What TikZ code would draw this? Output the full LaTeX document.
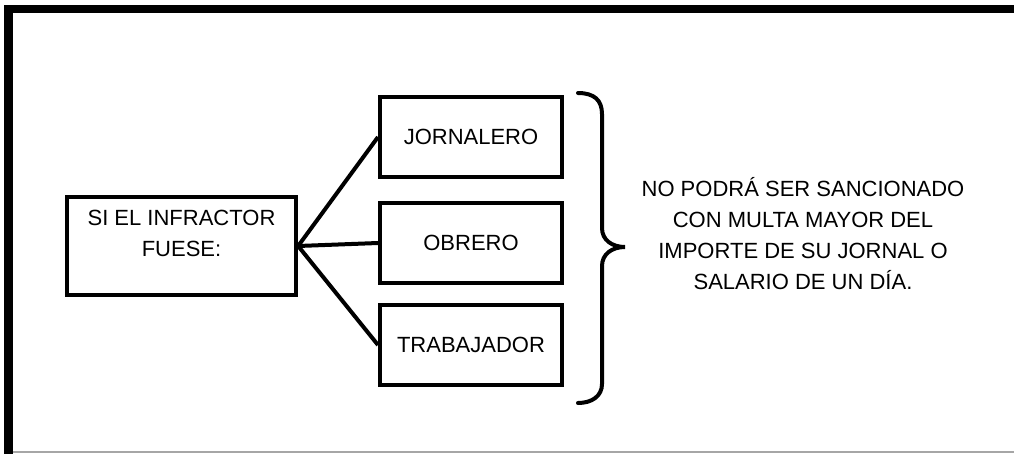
\documentclass[tikz,border=0pt]{standalone}
\usepackage{fontspec}
\setmainfont{Liberation Sans}
\usetikzlibrary{positioning}

\begin{document}
\begin{tikzpicture}[x=0.75pt,y=-0.75pt,font=\fontsize{16.5}{23.25}\selectfont]
\tikzstyle{b}=[draw,line width=3pt,minimum width=182*0.75pt,minimum height=80*0.75pt,inner sep=0pt]
\useasboundingbox (0,0) rectangle (1014,454);
% frame
\fill (4,5) rectangle (1014,13);
\fill (4,5) rectangle (13,454);
\draw[gray!70,line width=1.2pt] (13,452) -- (1014,452);
% left box
\node[draw,line width=3.2pt,minimum width=229*0.75pt,minimum height=98*0.75pt] (inf) at (181.5,246) {};
\node[align=center,anchor=north,inner sep=0pt] (inftxt) at (181.5,210) {SI EL INFRACTOR\\FUESE:};
\foreach \i/\t/\y in {jor/JORNALERO/137,obr/OBRERO/243,tra/TRABAJADOR/345} \node[b] (\i) at (471,\y) {\t};
\foreach \i in {jor,obr,tra} \draw[line width=3pt] (inf.east) -- (\i.west);
% brace
\draw[line width=3pt,line cap=round] (578,93) .. controls (594,93) and (602,100) .. (602,114) -- (602,228) .. controls (602,240) and (612,247) .. (625,247) .. controls (612,247) and (602,254) .. (602,266) -- (602,384) .. controls (602,396) and (592,403) .. (578,403);
\node[align=center,inner sep=0pt] (note) at (803,234) {NO PODRÁ SER SANCIONADO\\CON MULTA MAYOR DEL\\IMPORTE DE SU JORNAL O\\SALARIO DE UN DÍA.};
\end{tikzpicture}
\end{document}
